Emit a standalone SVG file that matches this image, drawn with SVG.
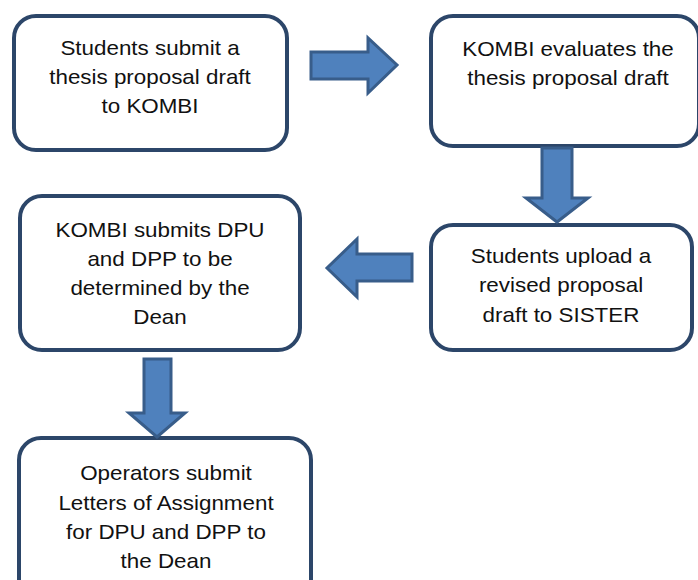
<svg xmlns="http://www.w3.org/2000/svg" width="698" height="580" viewBox="0 0 698 580">
  <defs>
    <style>
      .box { fill: #ffffff; stroke: #2c4669; stroke-width: 4; }
      .arrow { fill: #4f81bd; stroke: #385d8a; stroke-width: 3; stroke-linejoin: miter; }
      .lbl { font-family: "Liberation Sans", Arial, sans-serif; font-size: 20px; fill: #111111; text-anchor: middle; }
    </style>
  </defs>
  <rect width="698" height="580" fill="#ffffff"/>

  <!-- step 1 -->
  <g id="submit-draft">
    <rect class="box" x="14" y="16" width="273" height="134" rx="22" ry="22"/>
    <text class="lbl" transform="translate(150,55) scale(1.12,1)">Students submit a</text>
    <text class="lbl" transform="translate(150,84) scale(1.12,1)">thesis proposal draft</text>
    <text class="lbl" transform="translate(150,113) scale(1.12,1)">to KOMBI</text>
  </g>

  <!-- step 2 -->
  <g id="evaluate-draft">
    <rect class="box" x="431" y="16" width="268" height="130" rx="22" ry="22"/>
    <text class="lbl" transform="translate(568,56) scale(1.12,1)">KOMBI evaluates the</text>
    <text class="lbl" transform="translate(568,85) scale(1.12,1)">thesis proposal draft</text>
  </g>

  <!-- step 3 -->
  <g id="upload-revision">
    <rect class="box" x="431" y="225" width="261" height="125" rx="22" ry="22"/>
    <text class="lbl" transform="translate(561,263) scale(1.12,1)">Students upload a</text>
    <text class="lbl" transform="translate(561,292) scale(1.12,1)">revised proposal</text>
    <text class="lbl" transform="translate(561,322) scale(1.12,1)">draft to SISTER</text>
  </g>

  <!-- step 4 -->
  <g id="submit-dpu-dpp">
    <rect class="box" x="20" y="196" width="280" height="154" rx="22" ry="22"/>
    <text class="lbl" transform="translate(160,237) scale(1.12,1)">KOMBI submits DPU</text>
    <text class="lbl" transform="translate(160,266) scale(1.12,1)">and DPP to be</text>
    <text class="lbl" transform="translate(160,295) scale(1.12,1)">determined by the</text>
    <text class="lbl" transform="translate(160,324) scale(1.12,1)">Dean</text>
  </g>

  <!-- step 5 -->
  <g id="assignment-letters">
    <rect class="box" x="19" y="438" width="292" height="170" rx="22" ry="22"/>
    <text class="lbl" transform="translate(166,480) scale(1.12,1)">Operators submit</text>
    <text class="lbl" transform="translate(166,510) scale(1.12,1)">Letters of Assignment</text>
    <text class="lbl" transform="translate(166,539) scale(1.12,1)">for DPU and DPP to</text>
    <text class="lbl" transform="translate(166,568) scale(1.12,1)">the Dean</text>
  </g>

  <!-- block arrows between steps -->
  <g id="connectors">
    <polygon class="arrow" points="311,52 368,52 368,38 397,65 368,93 368,79 311,79"/>
    <polygon class="arrow" points="542,148 572,148 572,198 588,198 557,222 526,198 542,198"/>
    <polygon class="arrow" points="412,254 357,254 357,239 327,268 357,297 357,281 412,281"/>
    <polygon class="arrow" points="144,359 171,359 171,413 185,413 157,437 129,413 144,413"/>
  </g>
</svg>
